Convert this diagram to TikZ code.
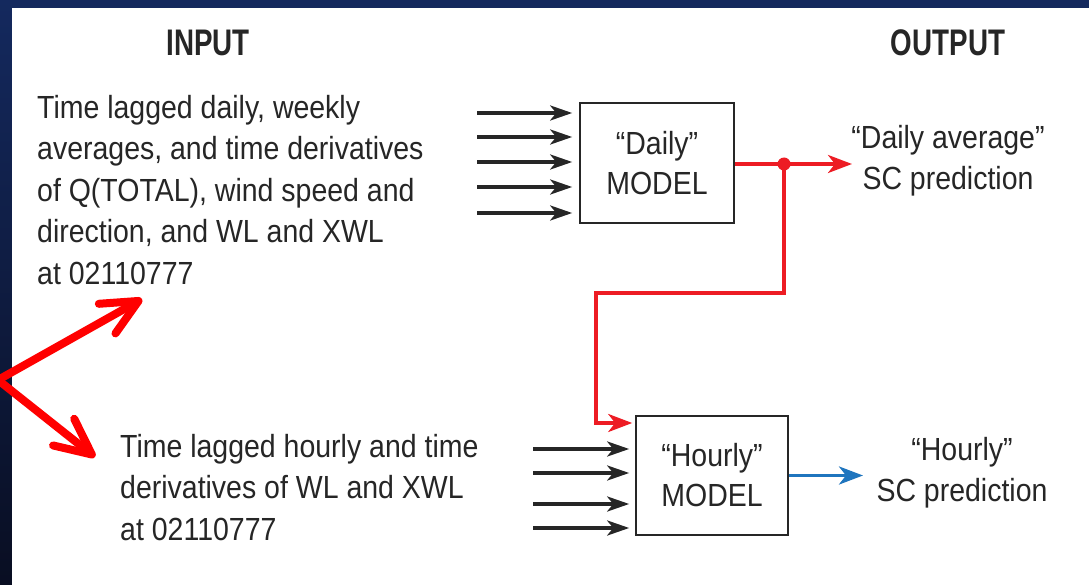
\documentclass[tikz,border=0pt]{standalone}
\usepackage{fontspec}
\setmainfont[FakeStretch=0.89]{Liberation Sans}
\newfontfamily\headfont[FakeStretch=0.75]{Liberation Sans}
\usetikzlibrary{arrows.meta,calc}

\definecolor{ink}{HTML}{262626}
\definecolor{flowred}{HTML}{ED1C24}
\definecolor{alertred}{HTML}{FF0000}
\definecolor{flowblue}{HTML}{1F75BE}
\definecolor{bgtop}{HTML}{14295E}
\definecolor{bgbot}{HTML}{090E22}

\tikzset{
  txt/.style={font=\fontsize{32}{41.5}\selectfont, text=ink, inner sep=0pt, align=left},
  heading/.style={font=\headfont\bfseries\fontsize{37}{40}\selectfont, text=ink, inner sep=0pt},
  modelbox/.style={draw=ink, line width=1.6pt, fill=white, align=center, text=ink,
    font=\fontsize{32}{40}\selectfont},
  feed/.style={draw=ink, line width=3.5pt, -{Stealth[length=22pt,width=15pt,inset=6pt]}},
  redflow/.style={draw=flowred, line width=3.5pt},
  redarrow/.style={redflow, -{Stealth[length=24pt,width=18pt,inset=7pt]}},
  bluearrow/.style={draw=flowblue, line width=3.5pt, -{Stealth[length=24pt,width=18pt,inset=7pt]}},
  pointer/.style={draw=alertred, line width=8pt, line cap=round,
    -{Straight Barb[length=36pt,width=34pt,round]}},
}

\begin{document}
\begin{tikzpicture}[x=1pt,y=-1pt]
\useasboundingbox (0,0) rectangle (1089,585);
% slide backdrop and white panel
\shade[top color=bgtop, bottom color=bgbot] (0,0) rectangle (1089,585);
\fill[white] (12,8) rectangle (1089,585);

% headings
\node[heading] (inhead) at (208,43) {INPUT};
\node[heading] (outhead) at (948,43) {OUTPUT};

% input descriptions
\node[txt, anchor=north west] (dailyin) at (37,95)
  {Time lagged daily, weekly\\averages, and time derivatives\\of Q(TOTAL), wind speed and\\direction, and WL and XWL\\at 02110777};
\node[txt, anchor=north west] (hourlyin) at (120,434)
  {Time lagged hourly and time\\derivatives of WL and XWL\\at 02110777};

% models
\node[modelbox, minimum width=154pt, minimum height=120pt] (daily) at (657,163) {“Daily”\\MODEL};
\node[modelbox, minimum width=152pt, minimum height=119pt] (hourly) at (712,475.5) {“Hourly”\\MODEL};

% outputs
\node[txt, align=center, anchor=north] (dailyout) at (948,125) {“Daily average”\\SC prediction};
\node[txt, align=center, anchor=north] (hourlyout) at (962,437) {“Hourly”\\SC prediction};

% input feeds into the daily model
\foreach \i/\y in {1/113,2/137,3/162,4/187,5/213}{
  \coordinate (d\i) at (477,\y);
  \draw[feed, shorten >=7pt] (d\i) -- (d\i -| daily.west);
}
% input feeds into the hourly model
\foreach \i/\y in {1/449,2/473,3/504,4/528}{
  \coordinate (h\i) at (533,\y);
  \draw[feed, shorten >=6pt] (h\i) -- (h\i -| hourly.west);
}

% daily output and its branch into the hourly model
\coordinate (jn) at (784,164);
\coordinate (dtip) at (852,164);
\coordinate (bend) at (596,293);
\coordinate (entry) at (596,423);
\draw[redarrow] (jn -| daily.east) -- (dtip);
\draw[redarrow, shorten >=3pt] (jn) |- (bend) -- (entry) -- (entry -| hourly.west);
\fill[flowred] (jn) circle (6.5);

% hourly output
\coordinate (htip) at (863,475.5);
\draw[bluearrow] (hourly.east) -- (htip);

% pointers to the two input groups
\coordinate (vtx) at (-2,380);
\coordinate (uptip) at (142,299);
\coordinate (downtip) at (95,457);
\draw[pointer] (vtx) -- (uptip);
\draw[pointer] (vtx) -- (downtip);
\end{tikzpicture}
\end{document}
